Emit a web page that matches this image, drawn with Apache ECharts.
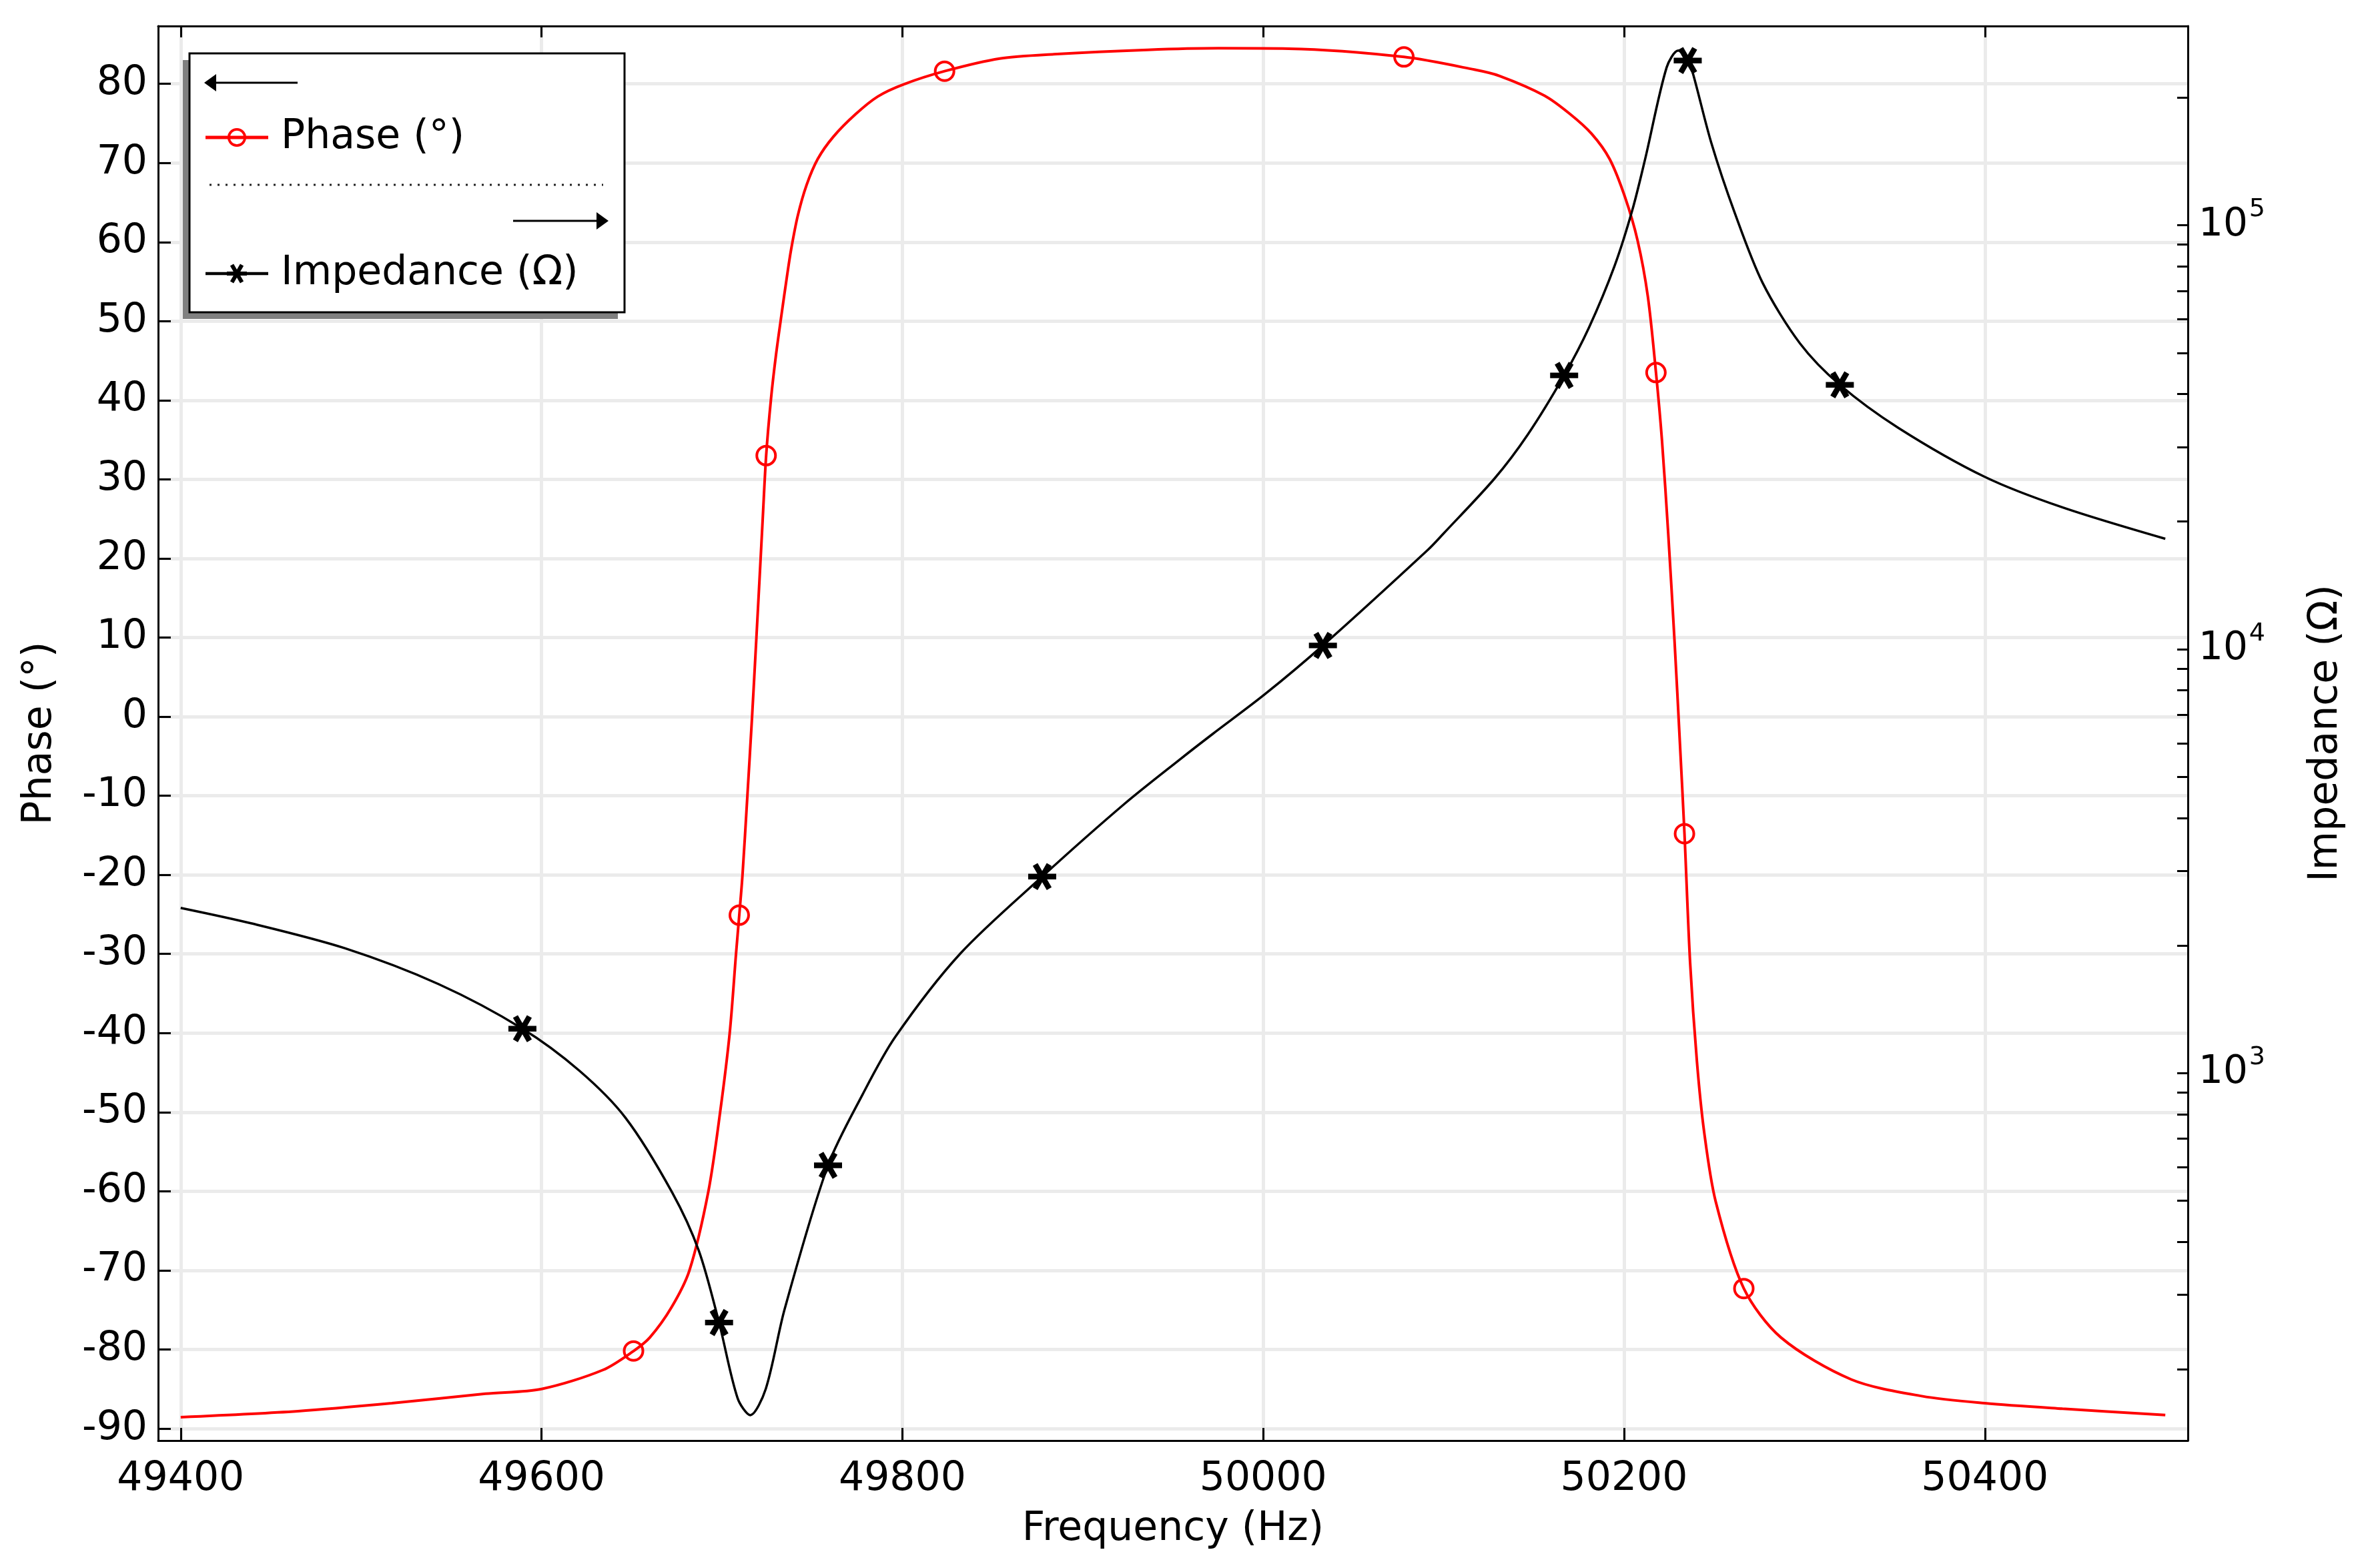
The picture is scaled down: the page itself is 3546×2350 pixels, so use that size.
<!DOCTYPE html>
<html><head><meta charset="utf-8">
<script src="https://cdn.jsdelivr.net/npm/echarts@6/dist/echarts.min.js"></script>
<style>html,body{margin:0;padding:0;background:#fff}#c{width:3546px;height:2350px}</style>
</head><body><div id="c"></div>
<script>
// ---- data ----
const phaseFreq = [49400, 49465, 49517, 49569, 49600, 49634, 49651, 49660, 49672, 49682, 49692.5, 49699, 49704.3, 49707.8, 49709.6, 49711.4, 49714.1, 49716.7, 49719.1, 49721, 49722.6, 49724.5, 49727.2, 49730, 49733, 49736, 49738.3, 49742, 49746.9, 49753.1, 49761.7, 49774, 49786.4, 49800.3, 49823.4, 49854, 49884, 49936, 49975, 50014, 50078, 50117, 50131, 50156, 50170, 50182, 50192, 50200.5, 50207.5, 50213.2, 50217.7, 50221, 50224.5, 50228, 50231, 50233.5, 50236.6, 50240.4, 50244.4, 50250.8, 50266.4, 50287, 50326, 50365, 50400, 50443, 50500];
const phaseDeg = [-88.56, -87.8, -86.8, -85.6, -85.0, -82.6, -80.2, -78.5, -74.7, -70, -60, -50, -40, -30, -25.1, -20, -10, 0, 10, 18.1, 25, 33, 40.2, 45.8, 50.8, 55.6, 59.0, 63.3, 67.2, 70.5, 73.3, 76.15, 78.4, 79.9, 81.6, 83.2, 83.75, 84.3, 84.5, 84.45, 83.4, 81.8, 81.0, 78.5, 76.2, 73.7, 70.5, 65.7, 60.2, 53.1, 43.5, 35, 23.1, 9.5, -3.5, -14.8, -31, -43.6, -52.5, -61.3, -72.3, -78.5, -83.8, -85.9, -86.8, -87.5, -88.3];
const phaseMarkerFreq = [49651, 49709.6, 49724.5, 49823.4, 50078, 50217.7, 50233.5, 50266.4];

const impFreq = [49400, 49439, 49491, 49543, 49589.4, 49621, 49646.5, 49672.4, 49687.2, 49698.4, 49708.7, 49715.7, 49724.3, 49734.7, 49758.8, 49778, 49796, 49832, 49877.5, 49923, 49954, 49972, 50000.7, 50033.1, 50091.5, 50099.9, 50128.2, 50146.6, 50166.8, 50180.6, 50194.7, 50204.6, 50211.7, 50223.6, 50230, 50235.3, 50238, 50248.3, 50261.3, 50276.8, 50297.6, 50319.6, 50352, 50400, 50443, 50500];
const impOhm = [2453, 2256, 1970, 1621, 1273, 1013, 785, 523, 381, 258, 171, 156, 180, 277, 606, 891, 1216, 1912, 2908, 4313, 5502, 6310, 7815, 10205, 17185, 18730, 25260, 32060, 44240, 57410, 80070, 108600, 143300, 235600, 258200, 244700, 229600, 156800, 107100, 73150, 52580, 42030, 33280, 25490, 21600, 18210];
const impMarkerFreq = [49589.4, 49698.4, 49758.8, 49877.5, 50033.1, 50166.8, 50235.3, 50319.6];

const freqTicks = [49400, 49600, 49800, 50000, 50200, 50400];
const phaseTicks = [-90, -80, -70, -60, -50, -40, -30, -20, -10, 0, 10, 20, 30, 40, 50, 60, 70, 80];
const impLabelTicks = [1000, 10000, 100000];
const impMinorTicks = [200, 300, 400, 500, 600, 700, 800, 900, 1000, 2000, 3000, 4000, 5000, 6000, 7000, 8000, 9000, 10000, 20000, 30000, 40000, 50000, 60000, 70000, 80000, 90000, 100000, 200000];

// ---- build series data ----
const phaseData = phaseFreq.map((f, i) => phaseMarkerFreq.indexOf(f) >= 0 ? { value: [f, phaseDeg[i]] } : { value: [f, phaseDeg[i]], symbol: 'none' });
const impData = impFreq.map((f, i) => impMarkerFreq.indexOf(f) >= 0 ? { value: [f, impOhm[i]] } : { value: [f, impOhm[i]], symbol: 'none' });

const FONT = 'DejaVu Sans';
const FS = 60;
const asterisk = 'path://M0,40L100,40L100,60L0,60Z M33.66,1.7L83.66,88.3L66.34,98.3L16.34,11.7Z M16.34,88.3L66.34,1.7L83.66,11.7L33.66,98.3Z';
// legend icons: line + marker
const phaseIcon = 'path://M0,12.5L94,12.5L94,17.5L0,17.5Z M61,15A14,14 0 1,1 33,15A14,14 0 1,1 61,15Z M57.2,15A10.2,10.2 0 1,0 36.8,15A10.2,10.2 0 1,0 57.2,15Z';
const impIcon = 'path://M0,12.8L94,12.8L94,17.2L0,17.2Z M32,12L62,12L62,18L32,18Z M42.1,0.5L57.1,26.5L51.9,29.5L36.9,3.5Z M36.9,26.5L51.9,0.5L57.1,3.5L42.1,29.5Z';
const txt = { fontFamily: FONT, fontSize: FS, color: '#000' };

const chart = echarts.init(document.getElementById('c'), null, { renderer: 'canvas' });
chart.setOption({
  animation: false,
  backgroundColor: '#fff',
  grid: { left: 237, right: 267, top: 39, bottom: 191 },
  xAxis: [{
    type: 'value', position: 'bottom', min: 49387.5, max: 50512.5,
    axisLine: { show: true, onZero: false, lineStyle: { color: '#000', width: 3 } },
    axisTick: { show: true, inside: true, length: 19, lineStyle: { color: '#000', width: 3 }, customValues: freqTicks },
    axisLabel: Object.assign({ customValues: freqTicks, margin: 28, formatter: v => String(v) }, txt),
    splitLine: { show: true, lineStyle: { color: '#ebebeb', width: 5 } },
    name: 'Frequency (Hz)', nameLocation: 'middle', nameGap: 103, nameTextStyle: txt
  }, {
    type: 'value', position: 'top', min: 49387.5, max: 50512.5,
    axisLine: { show: true, onZero: false, lineStyle: { color: '#000', width: 3 } },
    axisTick: { show: true, inside: true, length: 17, lineStyle: { color: '#000', width: 3 }, customValues: freqTicks },
    axisLabel: { show: false },
    splitLine: { show: false }
  }],
  yAxis: [{
    type: 'value', position: 'left', min: -91.52, max: 87.31,
    axisLine: { show: true, onZero: false, lineStyle: { color: '#000', width: 3 } },
    axisTick: { show: true, inside: true, length: 19, lineStyle: { color: '#000', width: 3 }, customValues: phaseTicks },
    axisLabel: Object.assign({ customValues: phaseTicks, margin: 16, formatter: v => String(v) }, txt),
    splitLine: { show: true, lineStyle: { color: '#ebebeb', width: 5 } },
    name: 'Phase (°)', nameLocation: 'middle', nameGap: 147, nameRotate: 90, nameTextStyle: txt
  }, {
    type: 'log', logBase: 10, position: 'right', min: 135.9, max: 295100,
    axisLine: { show: true, onZero: false, lineStyle: { color: '#000', width: 3 } },
    axisTick: { show: true, inside: true, length: 16, lineStyle: { color: '#000', width: 3 }, customValues: impMinorTicks },
    axisLabel: {
      customValues: impLabelTicks, margin: 16,
      formatter: v => '{b|10}{s|' + Math.round(Math.log10(v)) + '}',
      rich: {
        b: { fontFamily: FONT, fontSize: 58, color: '#000' },
        s: { fontFamily: FONT, fontSize: 38, color: '#000', padding: [0, 0, 46, 2] }
      }
    },
    splitLine: { show: false },
    name: 'Impedance (Ω)', nameLocation: 'middle', nameGap: 177, nameRotate: 90, nameTextStyle: txt
  }],
  legend: [{
    data: ['Phase (°)'], icon: phaseIcon,
    itemStyle: { color: '#ff0000', borderWidth: 0 },
    left: 308, top: 176, orient: 'vertical', padding: 0,
    itemWidth: 94, itemHeight: 30, selectedMode: false, z: 20,
    textStyle: Object.assign({ padding: [0, 0, 0, 14] }, txt)
  }, {
    data: ['Impedance (Ω)'], icon: impIcon,
    itemStyle: { color: '#000', borderWidth: 0 },
    left: 308, top: 380, orient: 'vertical', padding: 0,
    itemWidth: 94, itemHeight: 30, selectedMode: false, z: 20,
    textStyle: Object.assign({ padding: [0, 0, 0, 14] }, txt)
  }],
  graphic: [
    { type: 'rect', z: 10, shape: { x: 274, y: 90, width: 652, height: 388 }, style: { fill: '#808080' } },
    { type: 'rect', z: 11, shape: { x: 284, y: 80, width: 652, height: 388 }, style: { fill: '#fff', stroke: '#000', lineWidth: 3 } },
    { type: 'line', z: 12, shape: { x1: 320, y1: 124, x2: 446, y2: 124 }, style: { stroke: '#000', lineWidth: 3 } },
    { type: 'polygon', z: 12, shape: { points: [[306, 124], [324, 111], [324, 137]] }, style: { fill: '#000' } },
    { type: 'line', z: 12, shape: { x1: 314, y1: 277, x2: 904, y2: 277 }, style: { stroke: '#222', lineWidth: 3, lineDash: [3, 9] } },
    { type: 'line', z: 12, shape: { x1: 769, y1: 331, x2: 898, y2: 331 }, style: { stroke: '#000', lineWidth: 3 } },
    { type: 'polygon', z: 12, shape: { points: [[912, 331], [894, 318], [894, 344]] }, style: { fill: '#000' } }
  ],
  series: [{
    name: 'Phase (°)', type: 'line', xAxisIndex: 0, yAxisIndex: 0, data: phaseData,
    symbol: 'circle', symbolSize: 28, showSymbol: true, showAllSymbol: true,
    smooth: 0.3,
    lineStyle: { color: '#ff0000', width: 4 },
    itemStyle: { color: 'rgba(255,255,255,0)', borderColor: '#ff0000', borderWidth: 4 },
    emphasis: { disabled: true }, z: 3
  }, {
    name: 'Impedance (Ω)', type: 'line', xAxisIndex: 0, yAxisIndex: 1, data: impData,
    symbol: asterisk, symbolSize: 42, symbolKeepAspect: true, showSymbol: true, showAllSymbol: true,
    smooth: 0.3,
    lineStyle: { color: '#000', width: 3.5 },
    itemStyle: { color: '#000' },
    emphasis: { disabled: true }, z: 4
  }]
});
</script>
</body></html>
